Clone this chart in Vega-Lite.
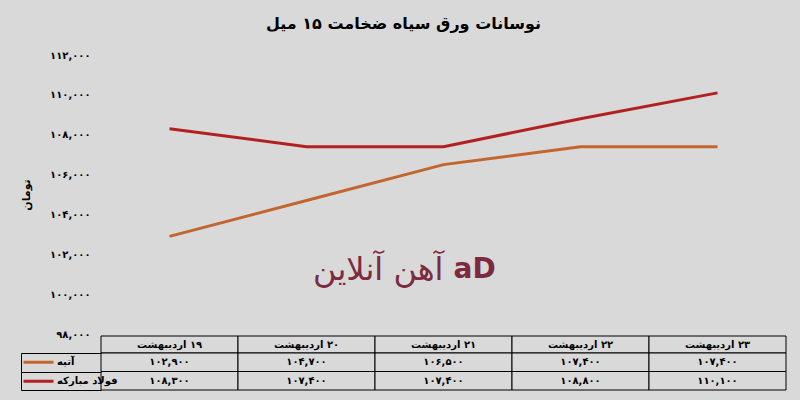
{
  "$schema": "https://vega.github.io/schema/vega-lite/v6.json",
  "autosize": "none",
  "width": 685,
  "height": 335,
  "padding": {"left": 101, "top": 55, "right": 14, "bottom": 10},
  "background": "#d9d9d9",
  "config": {
    "view": {"stroke": null},
    "font": "DejaVu Sans",
    "locale": {
      "number": {
        "decimal": ".",
        "thousands": ",",
        "grouping": [3],
        "currency": ["", ""],
        "numerals": ["۰", "۱", "۲", "۳", "۴", "۵", "۶", "۷", "۸", "۹"]
      }
    }
  },
  "title": {
    "text": "نوسانات ورق سیاه ضخامت ۱۵ میل",
    "font": "DejaVu Sans",
    "fontSize": 16,
    "fontWeight": "bold",
    "color": "black",
    "anchor": "middle",
    "frame": "bounds",
    "offset": 18
  },
  "datasets": {
    "prices": [
      {"date": "\u200f۱۹ اردیبهشت", "series": "آتیه", "value": 102900},
      {"date": "\u200f۲۰ اردیبهشت", "series": "آتیه", "value": 104700},
      {"date": "\u200f۲۱ اردیبهشت", "series": "آتیه", "value": 106500},
      {"date": "\u200f۲۲ اردیبهشت", "series": "آتیه", "value": 107400},
      {"date": "\u200f۲۳ اردیبهشت", "series": "آتیه", "value": 107400},
      {"date": "\u200f۱۹ اردیبهشت", "series": "فولاد مبارکه", "value": 108300},
      {"date": "\u200f۲۰ اردیبهشت", "series": "فولاد مبارکه", "value": 107400},
      {"date": "\u200f۲۱ اردیبهشت", "series": "فولاد مبارکه", "value": 107400},
      {"date": "\u200f۲۲ اردیبهشت", "series": "فولاد مبارکه", "value": 108800},
      {"date": "\u200f۲۳ اردیبهشت", "series": "فولاد مبارکه", "value": 110100}
    ]
  },
  "data": {"name": "prices"},
  "layer": [
    {
      "layer": [
        {
          "mark": {"type": "line", "strokeWidth": 3},
          "encoding": {
            "x": {"field": "date", "type": "nominal", "sort": null, "bandPosition": 0.5,
                  "scale": {"type": "band", "paddingInner": 0, "paddingOuter": 0}, "axis": null},
            "y": {"field": "value", "type": "quantitative",
                  "scale": {"domain": [98000, 112000], "range": [279, 0], "zero": false, "nice": false},
                  "axis": {
                    "orient": "left",
                    "values": [98000, 100000, 102000, 104000, 106000, 108000, 110000, 112000],
                    "format": ",.0f",
                    "labelFont": "DejaVu Sans", "labelFontSize": 10, "labelFontWeight": "bold", "labelColor": "black",
                    "labelPadding": 11, "ticks": false, "domain": false, "grid": false,
                    "title": "تومان", "titleFont": "DejaVu Sans", "titleFontSize": 11, "titleFontWeight": "bold",
                    "titleColor": "black", "titlePadding": 18
                  }},
            "color": {"field": "series", "type": "nominal",
                      "scale": {"domain": ["آتیه", "فولاد مبارکه"], "range": ["#c3652f", "#b2211f"]},
                      "legend": {
                        "orient": "none", "legendX": -79, "legendY": 298, "title": null,
                        "symbolType": "stroke", "symbolStrokeWidth": 3, "symbolSize": 900,
                        "clipHeight": 18.5, "rowPadding": 0, "padding": 0, "offset": 0,
                        "labelFont": "DejaVu Sans", "labelFontSize": 10, "labelFontWeight": "bold",
                        "labelColor": "black", "labelOffset": 2
                      }}
          }
        },
        {
          "data": {"values": [{"logo": "آهن آنلاین"}]},
          "mark": {"type": "text", "align": "right", "baseline": "middle", "font": "DejaVu Sans",
                   "fontSize": 32, "color": "#7d2a3f"},
          "encoding": {
            "x": {"datum": "\u200f۲۱ اردیبهشت", "bandPosition": 0.5},
            "y": {"datum": 101200},
            "text": {"field": "logo"}
          }
        },
        {
          "data": {"values": [{"logo": "aD"}]},
          "mark": {"type": "text", "align": "left", "baseline": "middle", "font": "DejaVu Sans",
                   "fontSize": 28, "fontWeight": "bold", "color": "#7d2a3f", "dx": 10},
          "encoding": {
            "x": {"datum": "\u200f۲۱ اردیبهشت", "bandPosition": 0.5},
            "y": {"datum": 101200},
            "text": {"field": "logo"}
          }
        }
      ]
    },
    {
      "transform": [{"filter": "datum.series === 'آتیه'"}],
      "layer": [
        {
          "mark": {"type": "rect", "fill": "#d9d9d9", "stroke": "black", "strokeWidth": 1},
          "encoding": {
            "x": {"field": "date", "type": "nominal", "sort": null},
            "y": {"datum": "header", "type": "nominal",
                  "scale": {"type": "band", "domain": ["header"], "range": [281, 298], "paddingInner": 0, "paddingOuter": 0},
                  "axis": null}
          }
        },
        {
          "mark": {"type": "text", "font": "DejaVu Sans", "fontSize": 10, "fontWeight": "bold", "color": "black", "align": "center", "baseline": "middle"},
          "encoding": {
            "x": {"field": "date", "type": "nominal", "sort": null, "bandPosition": 0.5},
            "y": {"datum": "header", "type": "nominal", "bandPosition": 0.5},
            "text": {"field": "date"}
          }
        }
      ]
    },
    {
      "layer": [
        {
          "mark": {"type": "rect", "fill": "#d9d9d9", "stroke": "black", "strokeWidth": 1},
          "encoding": {
            "x": {"field": "date", "type": "nominal", "sort": null},
            "y": {"field": "series", "type": "nominal",
                  "scale": {"type": "band", "domain": ["آتیه", "فولاد مبارکه"], "range": [298, 335], "paddingInner": 0, "paddingOuter": 0},
                  "axis": {
                    "orient": "left", "offset": 80, "labels": false, "title": null, "grid": false,
                    "domain": true, "domainColor": "black", "domainWidth": 1,
                    "ticks": true, "tickBand": "extent", "tickSize": -80, "tickColor": "black", "tickWidth": 1
                  }}
          }
        },
        {
          "mark": {"type": "text", "font": "DejaVu Sans", "fontSize": 10, "fontWeight": "bold", "color": "black", "align": "center", "baseline": "middle"},
          "encoding": {
            "x": {"field": "date", "type": "nominal", "sort": null, "bandPosition": 0.5},
            "y": {"field": "series", "type": "nominal", "bandPosition": 0.5},
            "text": {"field": "value", "type": "quantitative", "format": ","}
          }
        }
      ]
    }
  ],
  "resolve": {"scale": {"y": "independent"}}
}
